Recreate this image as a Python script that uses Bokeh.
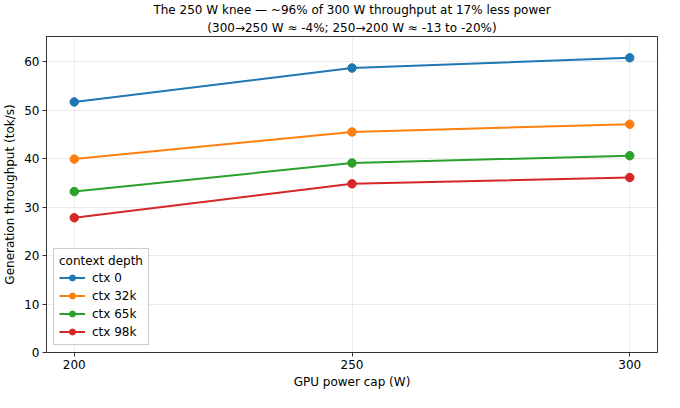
from bokeh.plotting import figure
from bokeh.models import Title, Legend, LegendItem, FixedTicker, Range1d
from bokeh.embed import file_html
from bokeh.resources import INLINE

power_caps = [200, 250, 300]
series_names = ["ctx 0", "ctx 32k", "ctx 65k", "ctx 98k"]
ctx0 = [51.7, 58.7, 60.8]
ctx32k = [39.9, 45.5, 47.1]
ctx65k = [33.2, 39.1, 40.6]
ctx98k = [27.8, 34.8, 36.1]
colors = ["#1f77b4", "#ff7f0e", "#2ca02c", "#d62728"]
y_ticks = [0, 10, 20, 30, 40, 50, 60]
x_ticks = [200, 250, 300]

FONT = "DejaVu Sans"
FS = "12px"

p = figure(width=664, height=392, output_backend="svg", toolbar_location=None,
           x_range=Range1d(195, 305), y_range=Range1d(0, 65.2),
           min_border_left=43, min_border_right=7, min_border_top=34, min_border_bottom=40)

p.title.text = "The 250 W knee \u2014 ~96% of 300 W throughput at 17% less power"
p.title.align = "center"
p.title.text_font = FONT
p.title.text_font_size = FS
p.title.text_font_style = "normal"
p.title.text_color = "#000000"
p.title.standoff = 1
p.add_layout(Title(text="(300\u2192250 W \u2248 -4%; 250\u2192200 W \u2248 -13 to -20%)",
                   align="center", text_font=FONT, text_font_size=FS,
                   text_font_style="normal", text_color="#000000", standoff=3), "above")

p.background_fill_color = "white"
p.border_fill_color = "white"
p.outline_line_color = "#333333"
p.outline_line_width = 1

for ax in (p.xaxis[0], p.yaxis[0]):
    ax.axis_line_color = "#333333"
    ax.major_tick_line_color = "#333333"
    ax.major_tick_out = 4
    ax.major_tick_in = 0
    ax.minor_tick_line_color = None
    ax.major_label_text_font = FONT
    ax.major_label_text_font_size = FS
    ax.major_label_text_color = "#000000"
    ax.axis_label_text_font = FONT
    ax.axis_label_text_font_size = FS
    ax.axis_label_text_font_style = "normal"
    ax.axis_label_text_color = "#000000"

p.xaxis.ticker = FixedTicker(ticks=x_ticks)
p.yaxis.ticker = FixedTicker(ticks=y_ticks)
p.xaxis.axis_label = "GPU power cap (W)"
p.yaxis.axis_label = "Generation throughput (tok/s)"
p.xaxis.major_label_standoff = 3
p.yaxis.major_label_standoff = 3
p.xaxis.axis_label_standoff = 3
p.yaxis.axis_label_standoff = 4

p.xgrid.ticker = FixedTicker(ticks=x_ticks)
p.ygrid.ticker = FixedTicker(ticks=y_ticks)
for g in (p.xgrid[0], p.ygrid[0]):
    g.grid_line_color = "#b0b0b0"
    g.grid_line_alpha = 0.3
    g.grid_line_width = 0.8

items = []
for name, vals, c in zip(series_names, [ctx0, ctx32k, ctx65k, ctx98k], colors):
    r1 = p.line(power_caps, vals, line_color=c, line_width=2)
    r2 = p.scatter(power_caps, vals, marker="circle", size=8.5, fill_color=c, line_color=c)
    items.append(LegendItem(label=name, renderers=[r1, r2]))

legend = Legend(items=items, location="bottom_left", title="context depth",
                title_text_font=FONT, title_text_font_size=FS, title_text_font_style="normal",
                title_text_color="#000000", title_standoff=2,
                label_text_font=FONT, label_text_font_size=FS, label_text_color="#000000",
                border_line_color="#cccccc", border_line_alpha=1.0, border_line_width=1,
                background_fill_alpha=0.8, glyph_width=26, glyph_height=15,
                label_height=15, spacing=3, padding=5, margin=7, label_standoff=7)
p.add_layout(legend)

open("out.html", "w").write(file_html(p, INLINE))
